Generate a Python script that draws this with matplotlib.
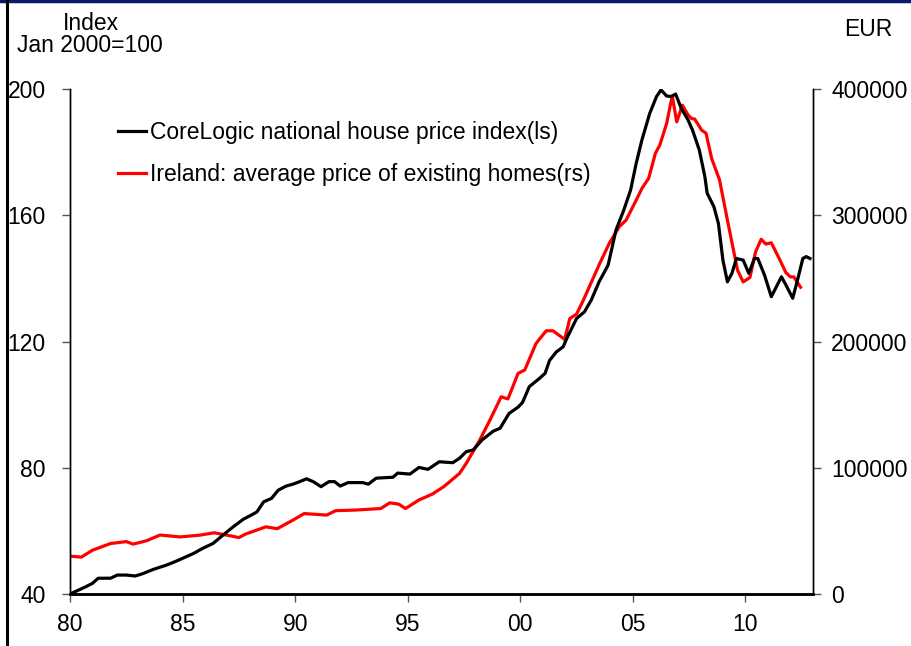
import matplotlib
matplotlib.use("Agg")
import matplotlib.pyplot as plt
from matplotlib.lines import Line2D

plt.rcParams["font.family"] = ["Liberation Sans", "DejaVu Sans"]

# CoreLogic national house price index (Jan 2000 = 100), left scale
hpi_year = [1980.0, 1980.7, 1981.0, 1981.25, 1981.8, 1982.1, 1982.5, 1982.9, 1983.25, 1983.7,
            1984.3, 1984.65, 1985.0, 1985.5, 1985.9, 1986.35, 1986.8, 1987.25, 1987.7, 1988.05,
            1988.3, 1988.6, 1988.95, 1989.25, 1989.6, 1989.9, 1990.2, 1990.5, 1990.8, 1991.15,
            1991.5, 1991.75, 1992.0, 1992.35, 1993.0, 1993.25, 1993.6, 1994.35, 1994.55, 1995.1,
            1995.5, 1995.9, 1996.4, 1997.0, 1997.3, 1997.6, 1997.9, 1998.3, 1998.8, 1999.1,
            1999.5, 1999.9, 2000.1, 2000.4, 2000.85, 2001.1, 2001.3, 2001.6, 2001.9, 2002.1,
            2002.5, 2002.85, 2003.15, 2003.5, 2003.9, 2004.25, 2004.6, 2004.9, 2005.15, 2005.4,
            2005.75, 2006.05, 2006.25, 2006.5, 2006.7, 2006.9, 2007.15, 2007.45, 2007.65, 2007.95,
            2008.2, 2008.3, 2008.6, 2008.8, 2009.0, 2009.2, 2009.4, 2009.6, 2009.9, 2010.15,
            2010.4, 2010.55, 2010.85, 2011.15, 2011.6, 2011.8, 2012.1, 2012.35, 2012.55, 2012.7,
            2012.87]
hpi_value = [40.0, 42.3, 43.4, 45.0, 45.0, 46.0, 46.0, 45.7, 46.5, 47.8,
             49.2, 50.2, 51.3, 52.9, 54.5, 56.0, 58.7, 61.3, 63.7, 65.0,
             66.0, 69.2, 70.3, 72.9, 74.2, 74.8, 75.6, 76.5, 75.6, 74.0,
             75.6, 75.6, 74.2, 75.3, 75.3, 74.8, 76.7, 77.0, 78.3, 78.0,
             80.1, 79.5, 81.9, 81.6, 83.0, 85.1, 85.6, 88.8, 91.6, 92.5,
             97.2, 99.2, 100.7, 105.7, 108.3, 109.9, 114.0, 116.7, 118.3, 121.5,
             127.3, 129.4, 133.1, 138.9, 144.2, 155.3, 161.7, 168.0, 176.5, 183.8,
             192.3, 197.6, 199.7, 197.8, 197.6, 198.4, 193.9, 190.2, 187.0, 180.7,
             172.2, 167.0, 162.7, 157.4, 145.8, 138.9, 141.6, 146.3, 145.8, 141.6,
             146.3, 146.3, 141.0, 134.2, 140.5, 137.9, 133.7, 140.5, 146.3, 146.9,
             146.3]

# Ireland: average price of existing homes (EUR), right scale
irl_year = [1980.0, 1980.5, 1981.0, 1981.8, 1982.5, 1982.8, 1983.4, 1984.0, 1984.9, 1985.8,
            1986.4, 1987.0, 1987.5, 1987.8, 1988.7, 1989.2, 1989.9, 1990.4, 1991.4, 1991.8,
            1992.7, 1993.8, 1994.2, 1994.6, 1994.9, 1995.5, 1996.1, 1996.6, 1997.3, 1997.6,
            1998.2, 1998.65, 1999.15, 1999.45, 1999.9, 2000.2, 2000.7, 2001.15, 2001.45, 2001.97,
            2002.2, 2002.5, 2002.8, 2003.2, 2003.5, 2003.95, 2004.4, 2004.7, 2005.15, 2005.4,
            2005.7, 2006.0, 2006.2, 2006.5, 2006.65, 2006.75, 2006.95, 2007.2, 2007.45, 2007.6,
            2007.75, 2008.05, 2008.25, 2008.5, 2008.85, 2009.2, 2009.5, 2009.65, 2009.9, 2010.2,
            2010.45, 2010.7, 2010.9, 2011.15, 2011.5, 2011.8, 2012.0, 2012.15, 2012.45]
irl_eur = [30000, 29200, 34700, 40000, 41500, 39500, 42200, 46700, 45200, 46700,
           48500, 46500, 44700, 47500, 53200, 51700, 58500, 63700, 62500, 66000,
           66500, 67700, 72200, 71200, 67700, 74500, 79200, 85000, 95500, 103500,
           122000, 137700, 156200, 154500, 174700, 177500, 198500, 208500, 208500, 201700,
           218200, 221700, 232700, 248700, 260700, 277700, 291000, 296200, 312000, 321200,
           329200, 349000, 355700, 372700, 386000, 394500, 374000, 387200, 379500, 376700,
           376200, 367500, 365000, 345000, 328000, 296200, 269700, 256500, 247200, 250700,
           271000, 281000, 277200, 278200, 265700, 254500, 251200, 251200, 243000]

FS = 16.5

fig = plt.figure(figsize=(9.12, 6.46), dpi=100)
ax = fig.add_axes([0.0768, 0.0805, 0.8146, 0.7817])
ax2 = ax.twinx()

l1, = ax.plot(hpi_year, hpi_value, color="black", lw=2.3, zorder=3)
l2, = ax2.plot(irl_year, irl_eur, color="#ff0000", lw=2.3, zorder=2)
ax.set_zorder(ax2.get_zorder() + 1)
ax.patch.set_visible(False)

ax.set_xlim(1980, 2013)
ax.set_ylim(40, 200)
ax2.set_ylim(0, 400000)
ax.set_yticks([40, 80, 120, 160, 200])
ax2.set_yticks([0, 100000, 200000, 300000, 400000])
ax2.set_yticklabels(["0", "100000", "200000", "300000", "400000"])
xt = [1980, 1985, 1990, 1995, 2000, 2005, 2010]
ax.set_xticks(xt)
ax.set_xticklabels(["80", "85", "90", "95", "00", "05", "10"])

ax.tick_params(axis="y", direction="out", length=6, width=1, colors="#555555",
               labelcolor="black", labelsize=FS, pad=11.5)
ax.tick_params(axis="x", direction="out", length=6, width=1, colors="#555555",
               labelcolor="black", labelsize=FS, pad=8)
ax2.tick_params(axis="y", direction="out", length=6, width=1, colors="#555555",
                labelcolor="black", labelsize=FS, pad=7)

for a in (ax, ax2):
    a.spines["top"].set_visible(False)
    for s in ("left", "right"):
        a.spines[s].set_linewidth(1.0)
    a.spines["bottom"].set_linewidth(1.8)

fig.text(0.100, 0.963, "Index", fontsize=FS, ha="center", va="center")
fig.text(0.098, 0.929, "Jan 2000=100", fontsize=FS, ha="center", va="center")
fig.text(0.952, 0.955, "EUR", fontsize=FS, ha="center", va="center")

fig.legend([l1, l2],
           ["CoreLogic national house price index(ls)",
            "Ireland: average price of existing homes(rs)"],
           loc="upper left", bbox_to_anchor=(0.129, 0.812), frameon=False,
           fontsize=FS, handlelength=1.25, handletextpad=0.15, labelspacing=0.8,
           borderaxespad=0, borderpad=0)

# slide frame lines
fig.add_artist(Line2D([0, 1], [0.998, 0.998], color="#0a1a6e", lw=2.5,
                      transform=fig.transFigure))
fig.add_artist(Line2D([0.0075, 0.0075], [0, 1], color="black", lw=2.2,
                      transform=fig.transFigure))

fig.savefig("out.png", dpi=100)
